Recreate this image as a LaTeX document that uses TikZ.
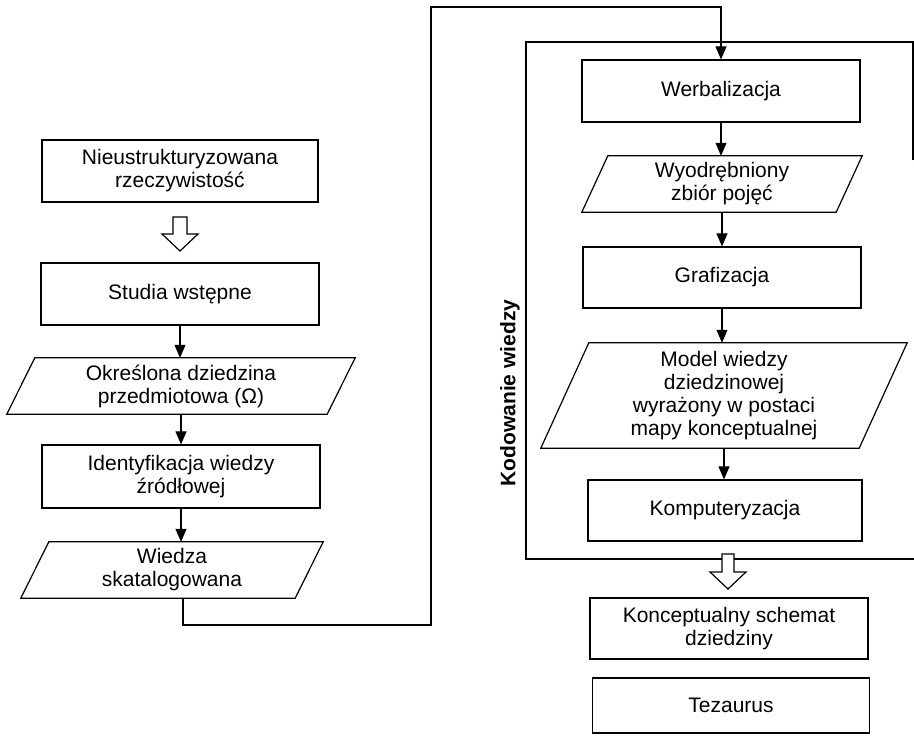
\documentclass[tikz,border=0pt]{standalone}
\usepackage{fontspec}
\setmainfont{Liberation Sans}
\usetikzlibrary{arrows.meta,calc}
% parallelogram data node: name, cx, cy, width, height, skew, text
\newcommand{\datanode}[7]{%
  \node[minimum width=#4pt, minimum height=#5pt] (#1) at (#2,#3) {#7};
  \draw[outline] ($(#1.north west)+(#6/2,0)$) -- ($(#1.north east)+(#6/2,0)$)
    -- ($(#1.south east)+(-#6/2,0)$) -- ($(#1.south west)+(-#6/2,0)$) -- cycle;}
% hollow block arrow pointing down: x, y top, shaft half, head half, y base, y tip
\newcommand{\hollowdown}[6]{%
  \draw[hollow] (#1-#3,#2) -- (#1+#3,#2) -- (#1+#3,#5) -- (#1+#4,#5) -- (#1,#6)
    -- (#1-#4,#5) -- (#1-#3,#5) -- cycle;}
\begin{document}
\begin{tikzpicture}[x=1pt,y=-1pt,
  every node/.style={font=\fontsize{21}{23}\selectfont, align=center, inner sep=0pt},
  stepbox/.style={draw, line width=1.2pt, minimum width=278pt, minimum height=62pt},
  outline/.style={line width=1.2pt, line join=miter},
  flow/.style={line width=1.1pt, -{Triangle[length=13pt,width=11pt]}},
  hollow/.style={draw, fill=white, line width=1.2pt, line join=miter},
  frame/.style={line width=1.2pt}]
\useasboundingbox (0,0) rectangle (914,736);

% left column
\node[stepbox, minimum width=276pt] (n1) at (180,171) {Nieustrukturyzowana\\rzeczywistość};
\node[stepbox] (n2) at (180,294) {Studia wstępne};
\datanode{p1}{181}{386}{320}{56}{28}{Określona dziedzina\\przedmiotowa (Ω)}
\node[stepbox, minimum height=63pt] (n3) at (181,476.5) {Identyfikacja wiedzy\\źródłowej};
\datanode{p2}{172}{570}{274}{56}{28}{Wiedza\\skatalogowana}

\hollowdown{180}{217}{7}{18}{234}{251}

\draw[flow] (n2.south) -- (n2.south |- p1.north);
\draw[flow] (p1.south) -- (p1.south |- n3.north);
\draw[flow] (n3.south) -- (n3.south |- p2.north);

% knowledge coding frame
\coordinate (fa) at (913,160);
\coordinate (fb) at (913,42);
\coordinate (fc) at (526,42);
\coordinate (fd) at (526,559);
\coordinate (fe) at (914,559);
\draw[frame] (fa) -- (fb) -- (fc) -- (fd) -- (fe);
\node[font=\bfseries\fontsize{21}{23}\selectfont, rotate=90] (kw) at (510,393) {Kodowanie wiedzy};

% right column
\node[stepbox] (w) at (721,91) {Werbalizacja};
\datanode{p3}{722}{184}{254}{56}{26}{Wyodrębniony\\zbiór pojęć}
\node[stepbox, minimum height=61pt] (g) at (722,277.5) {Grafizacja};
\datanode{p4}{724}{395.5}{318}{105}{48}{Model wiedzy\\dziedzinowej\\wyrażony w postaci\\mapy konceptualnej}
\node[stepbox, minimum width=274pt, minimum height=61pt] (k) at (725,510.5) {Komputeryzacja};
\node[stepbox, minimum height=61pt] (ks) at (729,628.5) {Konceptualny schemat\\dziedziny};
\node[stepbox, minimum width=277pt, minimum height=55pt] (t) at (731,705.5) {Tezaurus};

\draw[flow] (w.south) -- (w.south |- p3.north);
\draw[flow] (p3.south) -- (p3.south |- g.north);
\draw[flow] (g.south) -- (g.south |- p4.north);
\draw[flow] (p4.south) -- (p4.south |- k.north);

\hollowdown{728}{554}{6}{18}{572}{589}

% link from the left column into the coding frame
\coordinate (c1) at (431,625);
\coordinate (c2) at (431,7);
\draw[flow] ($(p2.south)+(11,0)$) |- (c1) -- (c2) -| (w.north);
\end{tikzpicture}
\end{document}
